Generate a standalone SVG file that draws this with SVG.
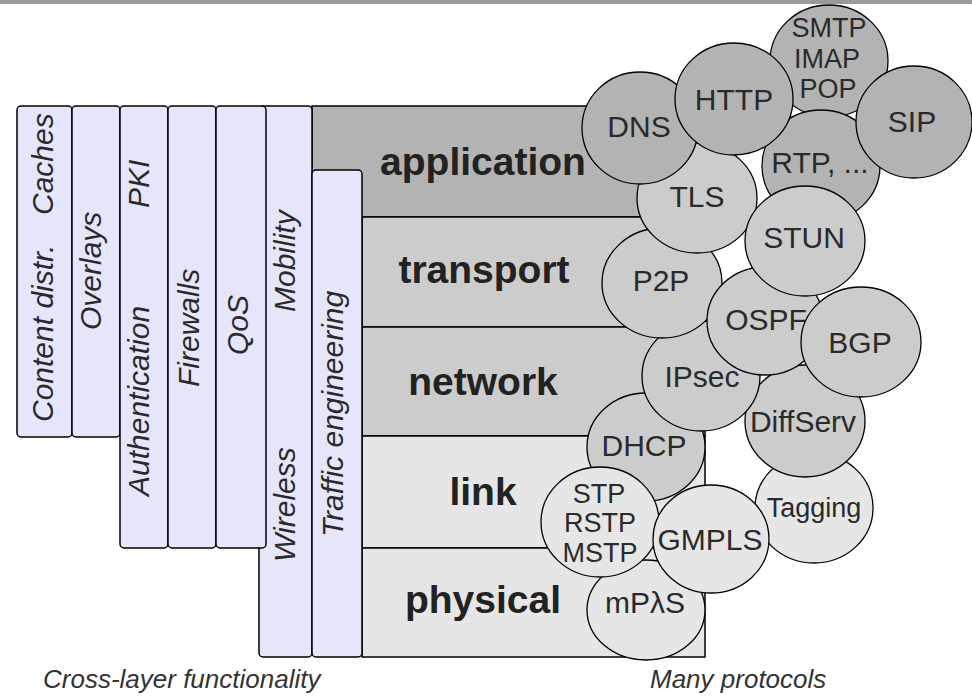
<svg xmlns="http://www.w3.org/2000/svg" width="972" height="697" viewBox="0 0 972 697">
<style>
.bar{fill:#e6e6fa;stroke:#000;stroke-width:1.5}
.lay{stroke:#000;stroke-width:1.5}
.c1{fill:#b3b3b3;stroke:#000;stroke-width:1.3}
.c2{fill:#cccccc;stroke:#000;stroke-width:1.3}
.c3{fill:#e6e6e6;stroke:#000;stroke-width:1.3}
.vt{font-family:"Liberation Sans",Arial,sans-serif;font-style:italic;font-size:30px;fill:#2a2a2a}
.lt{font-family:"Liberation Sans",Arial,sans-serif;font-weight:bold;font-size:39px;fill:#222;text-anchor:middle}
.ct{font-family:"Liberation Sans",Arial,sans-serif;font-size:30px;fill:#2a2a2a;text-anchor:middle}
.cs{font-family:"Liberation Sans",Arial,sans-serif;font-size:27px;fill:#2a2a2a;text-anchor:middle}
.cap{font-family:"Liberation Sans",Arial,sans-serif;font-style:italic;font-size:26px;fill:#333}
</style>
<rect x="0" y="0" width="972" height="4" fill="#999999"/>

<g id="layers">
  <g id="application"><rect class="lay" x="312" y="106" width="393" height="111" fill="#b3b3b3"/><text class="lt" x="483" y="175">application</text></g>
  <g id="transport"><rect class="lay" x="362" y="217" width="343" height="110" fill="#cccccc"/><text class="lt" x="484" y="283">transport</text></g>
  <g id="network"><rect class="lay" x="362" y="327" width="343" height="109" fill="#cccccc"/><text class="lt" x="483" y="395">network</text></g>
  <g id="link"><rect class="lay" x="362" y="436" width="343" height="112" fill="#e6e6e6"/><text class="lt" x="483" y="505">link</text></g>
  <g id="physical"><rect class="lay" x="362" y="548" width="343" height="109" fill="#e6e6e6"/><text class="lt" x="483" y="613">physical</text></g>
</g>

<g id="crosslayer">
  <g id="col-content"><rect class="bar" x="17" y="106" width="55" height="331" rx="4"/>
    <text class="vt" transform="translate(53,422) rotate(-90)">Content distr.<tspan x="207">Caches</tspan></text></g>
  <g id="col-overlays"><rect class="bar" x="72" y="106" width="48" height="331" rx="4"/>
    <text class="vt" transform="translate(101,330) rotate(-90)">Overlays</text></g>
  <g id="col-auth"><rect class="bar" x="120" y="106" width="48" height="442" rx="4"/>
    <text class="vt" transform="translate(149,496) rotate(-90)">Authentication<tspan x="288">PKI</tspan></text></g>
  <g id="col-firewalls"><rect class="bar" x="168" y="106" width="48" height="442" rx="4"/>
    <text class="vt" transform="translate(199,387) rotate(-90)">Firewalls</text></g>
  <g id="col-mobility"><rect class="bar" x="259" y="106" width="53" height="551" rx="4"/>
    <text class="vt" transform="translate(295,312) rotate(-90)">Mobility</text>
    <text class="vt" transform="translate(295,562) rotate(-90)">Wireless</text></g>
  <g id="col-qos"><rect class="bar" x="216" y="106" width="50" height="442" rx="4"/>
    <text class="vt" transform="translate(248,355) rotate(-90)">QoS</text></g>
  <g id="col-traffic"><rect class="bar" x="312" y="170" width="50" height="487" rx="4"/>
    <text class="vt" transform="translate(343,537) rotate(-90)">Traffic engineering</text></g>
</g>

<g id="protocols">
  <g id="tagging"><ellipse class="c3" cx="814" cy="508" rx="59" ry="55"/><text class="cs" x="814" y="517" font-size="26">Tagging</text></g>
  <g id="mplas"><ellipse class="c3" cx="646" cy="610" rx="59" ry="50"/><text class="ct" x="645" y="613">mPλS</text></g>
  <g id="dhcp"><ellipse class="c2" cx="646" cy="447" rx="59" ry="54"/><text class="ct" x="644" y="456">DHCP</text></g>
  <g id="stp"><ellipse class="c3" cx="600" cy="522" rx="59" ry="55"/>
    <text class="cs" x="599" y="503">STP</text><text class="cs" x="600" y="532">RSTP</text><text class="cs" x="600" y="562">MSTP</text></g>
  <g id="gmpls"><ellipse class="c3" cx="711" cy="539" rx="58" ry="54"/><text class="ct" x="710" y="550">GMPLS</text></g>
  <g id="diffserv"><ellipse class="c2" cx="805" cy="421" rx="60" ry="56"/><text class="ct" x="803" y="432">DiffServ</text></g>
  <g id="ipsec"><ellipse class="c2" cx="701" cy="376" rx="59" ry="55"/><text class="ct" x="702" y="387">IPsec</text></g>
  <g id="p2p"><ellipse class="c2" cx="662" cy="283" rx="60" ry="55"/><text class="ct" x="661" y="291">P2P</text></g>
  <g id="ospf"><ellipse class="c2" cx="765" cy="321" rx="58" ry="54"/><text class="ct" x="766" y="330">OSPF</text></g>
  <g id="bgp"><ellipse class="c2" cx="861" cy="342" rx="60" ry="55"/><text class="ct" x="860" y="353">BGP</text></g>
  <g id="smtp"><ellipse class="c1" cx="829" cy="61" rx="59" ry="56"/>
    <text class="cs" x="829" y="37" font-size="26">SMTP</text><text class="cs" x="827" y="68" font-size="26">IMAP</text><text class="cs" x="828" y="98" font-size="26">POP</text></g>
  <g id="tls"><ellipse class="c2" cx="697" cy="198" rx="60" ry="55"/><text class="ct" x="697" y="207">TLS</text></g>
  <g id="rtp"><ellipse class="c1" cx="821" cy="166" rx="59" ry="56"/><text class="ct" x="820" y="173">RTP, ...</text></g>
  <g id="stun"><ellipse class="c2" cx="805" cy="241" rx="60" ry="55"/><text class="ct" x="804" y="248">STUN</text></g>
  <g id="sip"><ellipse class="c1" cx="914" cy="122" rx="58" ry="56"/><text class="ct" x="912" y="132">SIP</text></g>
  <g id="dns"><ellipse class="c1" cx="640" cy="128" rx="58" ry="56"/><text class="ct" x="639" y="137">DNS</text></g>
  <g id="http"><ellipse class="c1" cx="734" cy="99" rx="59" ry="56"/><text class="ct" x="734" y="110">HTTP</text></g>
</g>

<g id="connectors"/>

<text class="cap" x="43" y="688">Cross-layer functionality</text>
<text class="cap" x="650" y="688">Many protocols</text>
</svg>
